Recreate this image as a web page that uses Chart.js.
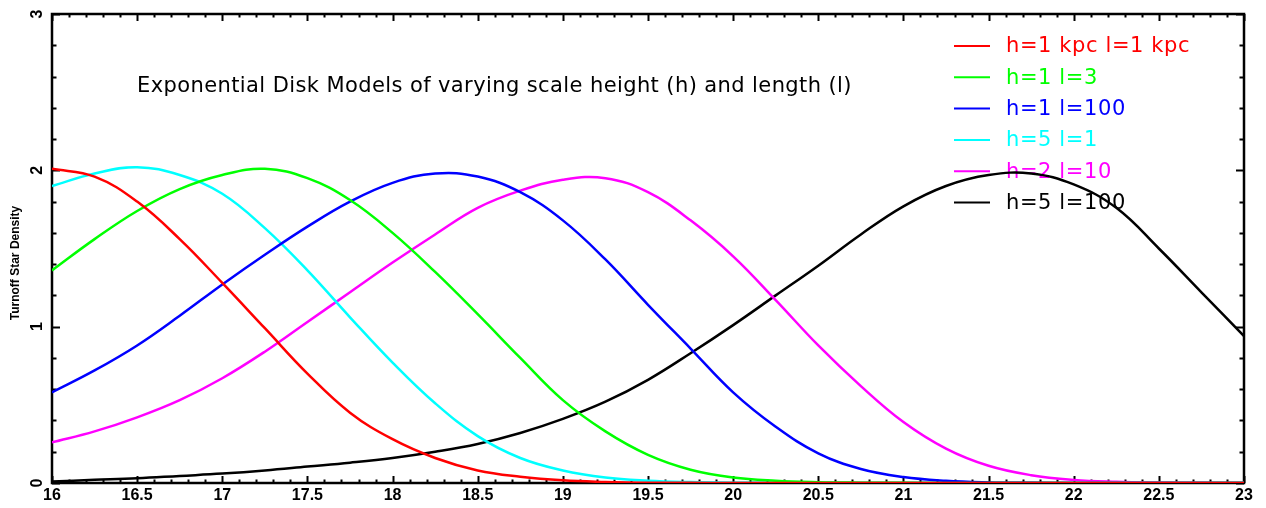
<!DOCTYPE html>
<html>
<head>
<meta charset="utf-8">
<title>Exponential Disk Models</title>
<script src="https://cdn.jsdelivr.net/npm/chart.js@4.4.1/dist/chart.umd.min.js"></script>
<style>
  html, body { margin: 0; padding: 0; background: #fff; }
  #wrap { width: 1266px; height: 508px; position: relative; }
</style>
</head>
<body>
<div id="wrap"><canvas id="diskChart"></canvas></div>
<script>
// ---------- data ----------
const magnitudes = [16, 16.25, 16.5, 16.75, 17, 17.25, 17.5, 17.75, 18, 18.25, 18.5, 18.75, 19, 19.25,
  19.5, 19.75, 20, 20.25, 20.5, 20.75, 21, 21.25, 21.5, 21.75, 22, 22.25, 22.5, 22.75, 23];

const seriesLabels = ['h=1 kpc l=1 kpc', 'h=1 l=3', 'h=1 l=100', 'h=5 l=1', 'h=2 l=10', 'h=5 l=100'];
const seriesColors = ['#ff0000', '#00ff00', '#0000ff', '#00ffff', '#ff00ff', '#000000'];

const h1l1 = [2.01, 1.96, 1.80, 1.56, 1.28, 0.99, 0.70, 0.45, 0.28, 0.16, 0.08, 0.04, 0.017, 0.007, 0.002,
  0.001, 0, 0, 0, 0, 0, 0, 0, 0, 0, 0, 0, 0, 0];
const h1l3 = [1.36, 1.56, 1.74, 1.88, 1.97, 2.01, 1.95, 1.81, 1.60, 1.35, 1.08, 0.80, 0.53, 0.33, 0.18,
  0.085, 0.035, 0.014, 0.005, 0.002, 0.001, 0, 0, 0, 0, 0, 0, 0, 0];
const h1l100 = [0.58, 0.72, 0.88, 1.07, 1.27, 1.46, 1.64, 1.80, 1.92, 1.98, 1.96, 1.86, 1.68, 1.43, 1.14,
  0.86, 0.58, 0.36, 0.19, 0.09, 0.038, 0.014, 0.004, 0.001, 0, 0, 0, 0, 0];
const h5l1 = [1.90, 1.98, 2.02, 1.97, 1.85, 1.63, 1.36, 1.06, 0.77, 0.51, 0.30, 0.16, 0.08, 0.035, 0.015,
  0.006, 0.002, 0.001, 0, 0, 0, 0, 0, 0, 0, 0, 0, 0, 0];
const h2l10 = [0.26, 0.33, 0.42, 0.53, 0.67, 0.84, 1.03, 1.22, 1.41, 1.59, 1.76, 1.87, 1.94, 1.95, 1.86,
  1.68, 1.45, 1.17, 0.88, 0.62, 0.39, 0.22, 0.11, 0.05, 0.02, 0.008, 0.003, 0.001, 0];
const h5l100 = [0.01, 0.02, 0.03, 0.045, 0.06, 0.08, 0.105, 0.13, 0.16, 0.20, 0.25, 0.32, 0.41, 0.52, 0.66,
  0.83, 1.01, 1.20, 1.39, 1.59, 1.77, 1.90, 1.97, 1.98, 1.91, 1.76, 1.50, 1.22, 0.94];

const xTickLabels = ['16', '16.5', '17', '17.5', '18', '18.5', '19', '19.5', '20', '20.5', '21', '21.5', '22', '22.5', '23'];
const yTickLabels = ['0', '1', '2', '3'];
const titleText = 'Exponential Disk Models of varying scale height (h) and length (l)';
const yAxisTitle = 'Turnoff Star Density';

// ---------- helpers ----------
function toPoints(vals) { return magnitudes.map((m, i) => ({ x: m, y: vals[i] })); }

const allSeries = [h1l1, h1l3, h1l100, h5l1, h2l10, h5l100];

// IDL-style frame: axes on all four sides, inward ticks, rotated y labels, legend inside
const framePlugin = {
  id: 'idlFrame',
  beforeDatasetsDraw(chart) {
    const ctx = chart.ctx;
    const a = chart.chartArea;
    const xs = chart.scales.x, ys = chart.scales.y;
    ctx.save();
    ctx.strokeStyle = '#000';
    ctx.lineWidth = 2.5;
    ctx.strokeRect(a.left, a.top, a.right - a.left, a.bottom - a.top);

    // x ticks (major every 0.5, minor every 0.1) top + bottom
    ctx.lineWidth = 2;
    for (let k = 0; k <= 70; k++) {
      const v = xs.min + k * 0.1;
      const px = Math.round(xs.getPixelForValue(v)) + 0.5;
      const len = (k % 5 === 0) ? 7 : 3.5;
      ctx.beginPath();
      ctx.moveTo(px, a.bottom); ctx.lineTo(px, a.bottom - len);
      ctx.moveTo(px, a.top); ctx.lineTo(px, a.top + len);
      ctx.stroke();
    }
    // y ticks (major every 1, minor every 0.2) left + right
    for (let k = 0; k <= 15; k++) {
      const v = ys.min + k * 0.2;
      const py = Math.round(ys.getPixelForValue(v)) + 0.5;
      const len = (k % 5 === 0) ? 8 : 4.5;
      ctx.beginPath();
      ctx.moveTo(a.left, py); ctx.lineTo(a.left + len, py);
      ctx.moveTo(a.right, py); ctx.lineTo(a.right - len, py);
      ctx.stroke();
    }

    // tick labels
    ctx.fillStyle = '#000';
    ctx.font = 'bold 16px "Liberation Sans", Arial, sans-serif';
    ctx.textAlign = 'center';
    ctx.textBaseline = 'middle';
    xTickLabels.forEach(t => {
      ctx.fillText(t, xs.getPixelForValue(parseFloat(t)), a.bottom + 13);
    });
    yTickLabels.forEach(t => {
      const py = ys.getPixelForValue(parseFloat(t));
      ctx.save();
      ctx.translate(a.left - 14, py);
      ctx.rotate(-Math.PI / 2);
      ctx.fillText(t, 0, 0);
      ctx.restore();
    });

    // y axis title
    ctx.save();
    ctx.font = 'bold 12px "Liberation Sans", Arial, sans-serif';
    ctx.translate(16, 263);
    ctx.rotate(-Math.PI / 2);
    ctx.fillText(yAxisTitle, 0, 0);
    ctx.restore();

    // title inside plot
    ctx.font = '21px "DejaVu Sans", sans-serif';
    ctx.letterSpacing = '0.4px';
    ctx.textAlign = 'left';
    ctx.fillText(titleText, 137, 87);

    // legend (line sample + coloured text)
    ctx.font = '21px "DejaVu Sans", sans-serif';
    ctx.letterSpacing = '0.6px';
    chart.data.datasets.forEach((ds, i) => {
      const y = 46 + i * 31.3;
      ctx.strokeStyle = ds.borderColor;
      ctx.fillStyle = ds.borderColor;
      ctx.lineWidth = 2;
      ctx.beginPath();
      ctx.moveTo(954, y); ctx.lineTo(990, y);
      ctx.stroke();
      ctx.fillText(ds.label, 1006, y + 1);
    });
    ctx.restore();
  }
};

document.addEventListener('DOMContentLoaded', function () {
  const ctx = document.getElementById('diskChart').getContext('2d');
  new Chart(ctx, {
    type: 'line',
    data: {
      datasets: allSeries.map((vals, i) => ({
        label: seriesLabels[i],
        data: toPoints(vals),
        borderColor: seriesColors[i],
        backgroundColor: seriesColors[i],
        borderWidth: 2.5,
        pointRadius: 0,
        fill: false,
        tension: 0.4
      }))
    },
    options: {
      responsive: true,
      maintainAspectRatio: false,
      animation: false,
      layout: { padding: { left: 52, top: 14, right: 22, bottom: 25 } },
      plugins: {
        legend: { display: false },
        tooltip: { enabled: false }
      },
      scales: {
        x: { type: 'linear', min: 16, max: 23, display: false },
        y: { type: 'linear', min: 0, max: 3, display: false }
      }
    },
    plugins: [framePlugin]
  });
});
</script>
</body>
</html>
